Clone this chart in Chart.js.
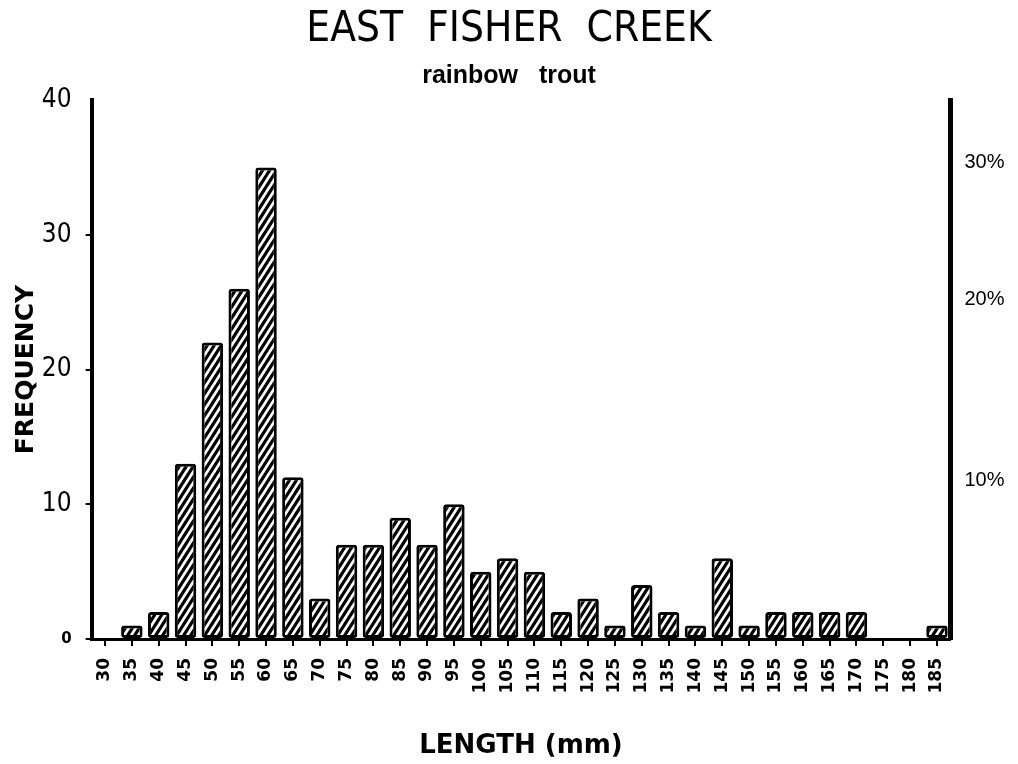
<!DOCTYPE html>
<html>
<head>
<meta charset="utf-8">
<script src="https://cdn.jsdelivr.net/npm/chart.js@4.4.1/dist/chart.umd.min.js"></script>
<style>
  html, body { margin: 0; background: #fff; }
</style>
</head>
<body>
<canvas id="chart" width="1018" height="764"></canvas>
<script>
const lengths = ['30', '35', '40', '45', '50', '55', '60', '65', '70', '75', '80', '85', '90', '95', '100', '105',
                 '110', '115', '120', '125', '130', '135', '140', '145', '150', '155', '160', '165', '170', '175', '180', '185'];
const counts = [0, 1, 2, 13, 22, 26, 35, 12, 3, 7, 7, 9, 7, 10, 5, 6,
                5, 2, 3, 1, 4, 2, 1, 6, 1, 2, 2, 2, 2, 0, 0, 1];
// right-hand percent labels, placed at these frequency levels as in the original
const pctLevels = [11.8, 25.2, 35.4];
const pctLabels = ['10%', '20%', '30%'];

// steep diagonal hatching like the original bars
function hatch() {
    const w = 7, h = 11;
    const c = document.createElement('canvas');
    c.width = w; c.height = h;
    const g = c.getContext('2d');
    g.fillStyle = '#fff';
    g.fillRect(0, 0, w, h);
    g.strokeStyle = '#000';
    g.lineWidth = 3.2;
    g.beginPath();
    for (const [dx, dy] of [[0, 0], [-w, 0], [w, 0], [0, -h], [0, h], [-w, h], [w, -h]]) {
        g.moveTo(dx, h + dy);
        g.lineTo(w + dx, dy);
    }
    g.stroke();
    return g.createPattern(c, 'repeat');
}

const chart = document.querySelector('#chart');

new Chart(chart, {
    type: 'bar',
    data: {
        labels: lengths,
        datasets: [{
            data: counts,
            backgroundColor: hatch(),
            borderColor: '#000',
            borderWidth: 3,
            borderRadius: 3,
            borderSkipped: false,
            barPercentage: 0.8,
            categoryPercentage: 1
        }]
    },
    options: {
        responsive: false,
        animation: false,
        layout: { padding: 0 },
        plugins: {
            legend: { display: false },
            tooltip: { enabled: false },
            title: {
                display: true,
                text: 'EAST  FISHER  CREEK',
                color: '#000',
                font: { family: "'DejaVu Sans Condensed', 'DejaVu Sans', sans-serif", size: 42, weight: 'normal', lineHeight: 1 },
                padding: { top: 9, bottom: 0 }
            },
            subtitle: {
                display: true,
                text: 'rainbow   trout',
                color: '#000',
                font: { family: "'Liberation Sans', Arial, sans-serif", size: 25, weight: 'bold', lineHeight: 1 },
                padding: { top: 13, bottom: 11 }
            }
        },
        scales: {
            x: {
                grid: { drawOnChartArea: false, offset: false, color: '#000', lineWidth: 2, tickLength: 7 },
                border: { color: '#000', width: 3 },
                ticks: {
                    color: '#000',
                    autoSkip: false,
                    minRotation: 90,
                    maxRotation: 90,
                    padding: 12,
                    font: { family: "'DejaVu Sans', sans-serif", size: 17, weight: 'bold' }
                },
                title: {
                    display: true,
                    text: 'LENGTH (mm)',
                    color: '#000',
                    font: { family: "'DejaVu Sans', sans-serif", size: 26, weight: 'bold', lineHeight: 1.2 },
                    padding: { top: 0, bottom: 2 }
                },
                afterFit: s => { s.height = 125; }
            },
            y: {
                min: 0,
                max: 40,
                ticks: {
                    stepSize: 10,
                    color: '#000',
                    padding: 14,
                    font: ctx => ctx.tick && ctx.tick.value === 0
                        ? { family: "'DejaVu Sans', sans-serif", size: 15, weight: 'bold' }
                        : { family: "'DejaVu Sans Condensed', 'DejaVu Sans', sans-serif", size: 26 }
                },
                grid: {
                    drawOnChartArea: false,
                    tickLength: 6,
                    lineWidth: 2,
                    color: ctx => ctx.tick && ctx.tick.value === 40 ? 'rgba(0,0,0,0)' : '#000'
                },
                border: { color: '#000', width: 4 },
                title: {
                    display: true,
                    text: 'FREQUENCY',
                    color: '#000',
                    font: { family: "'DejaVu Sans', sans-serif", size: 25, weight: 'bold', lineHeight: 1.2 },
                    padding: { top: 11, bottom: 0 }
                },
                afterFit: s => { s.width = 91.6; }
            },
            y2: {
                position: 'right',
                min: 0,
                max: 40,
                afterBuildTicks: s => { s.ticks = pctLevels.map(v => ({ value: v })); },
                ticks: {
                    color: '#000',
                    padding: 14,
                    callback: (v, i) => pctLabels[i],
                    font: { family: "'Liberation Sans', Arial, sans-serif", size: 20 }
                },
                grid: { drawOnChartArea: false, drawTicks: false },
                border: { color: '#000', width: 5 },
                afterFit: s => { s.width = 67.6; }
            }
        }
    }
});
</script>
</body>
</html>
